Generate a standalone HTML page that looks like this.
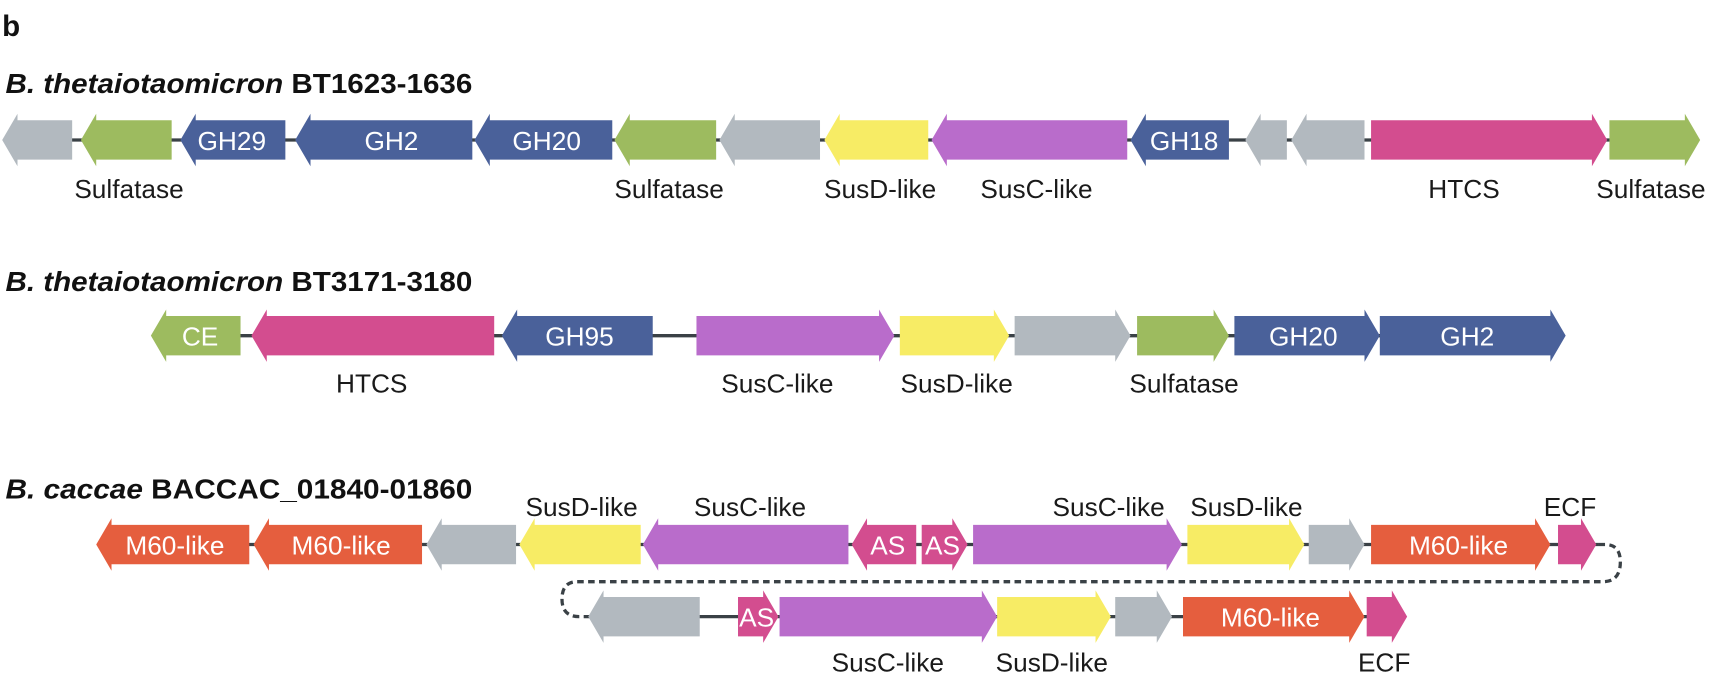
<!DOCTYPE html>
<html><head><meta charset="utf-8"><style>
html,body{margin:0;padding:0;background:#fff;}
svg{display:block;}
text{font-family:"Liberation Sans",sans-serif;}
.t{font-family:"Liberation Sans",sans-serif;font-weight:bold;font-size:25px;fill:#111;}
.l{font-size:24px;fill:#1a1a1a;text-anchor:middle;}
.w{font-size:24px;fill:#fff;text-anchor:middle;}
.g{fill:#b2b9bf}.gr{fill:#9dbb5f}.b{fill:#4a619a}.y{fill:#f7ec65}.p{fill:#b96ccb}.m{fill:#d34d8f}.o{fill:#e55e3e}
</style></head><body>
<svg width="1710" height="673" viewBox="0 0 1564 615.5" xmlns="http://www.w3.org/2000/svg">
<text x="2" y="33" class="t" style="font-size:27px">b</text>
<text x="5" y="85" class="t" textLength="427" lengthAdjust="spacingAndGlyphs"><tspan font-style="italic">B. thetaiotaomicron</tspan> BT1623-1636</text>
<line x1="60" y1="128" x2="1480" y2="128" stroke="#3a4146" stroke-width="3"/>
<polygon class="g" points="2,128 16,104 16,110 66,110 66,146 16,146 16,152"/>
<polygon class="gr" points="74,128 88,104 88,110 157,110 157,146 88,146 88,152"/>
<polygon class="b" points="165,128 179,104 179,110 261,110 261,146 179,146 179,152"/>
<polygon class="b" points="270,128 284,104 284,110 432,110 432,146 284,146 284,152"/>
<polygon class="b" points="434,128 448,104 448,110 560,110 560,146 448,146 448,152"/>
<polygon class="gr" points="562,128 576,104 576,110 655,110 655,146 576,146 576,152"/>
<polygon class="g" points="658,128 672,104 672,110 750,110 750,146 672,146 672,152"/>
<polygon class="y" points="754,128 768,104 768,110 849,110 849,146 768,146 768,152"/>
<polygon class="p" points="852,128 866,104 866,110 1031,110 1031,146 866,146 866,152"/>
<polygon class="b" points="1034,128 1048,104 1048,110 1124,110 1124,146 1048,146 1048,152"/>
<polygon class="g" points="1139,128 1153,104 1153,110 1177,110 1177,146 1153,146 1153,152"/>
<polygon class="g" points="1181,128 1195,104 1195,110 1248,110 1248,146 1195,146 1195,152"/>
<polygon class="m" points="1254,110 1456,110 1456,104 1470,128 1456,152 1456,146 1254,146"/>
<polygon class="gr" points="1472,110 1541,110 1541,104 1555,128 1541,152 1541,146 1472,146"/>
<text class="w" x="212" y="137">GH29</text>
<text class="w" x="358" y="137">GH2</text>
<text class="w" x="500" y="137">GH20</text>
<text class="w" x="1083" y="137">GH18</text>
<text class="l" x="118" y="181">Sulfatase</text>
<text class="l" x="612" y="181">Sulfatase</text>
<text class="l" x="805" y="181">SusD-like</text>
<text class="l" x="948" y="181">SusC-like</text>
<text class="l" x="1339" y="181">HTCS</text>
<text class="l" x="1510" y="181">Sulfatase</text>

<text x="5" y="266" class="t" textLength="427" lengthAdjust="spacingAndGlyphs"><tspan font-style="italic">B. thetaiotaomicron</tspan> BT3171-3180</text>
<line x1="150" y1="307" x2="1420" y2="307" stroke="#3a4146" stroke-width="3"/>
<polygon class="gr" points="138,307 152,283 152,289 220,289 220,325 152,325 152,331"/>
<polygon class="m" points="230,307 244,283 244,289 452,289 452,325 244,325 244,331"/>
<polygon class="b" points="459,307 473,283 473,289 597,289 597,325 473,325 473,331"/>
<polygon class="p" points="637,289 804,289 804,283 818,307 804,331 804,325 637,325"/>
<polygon class="y" points="823,289 909,289 909,283 923,307 909,331 909,325 823,325"/>
<polygon class="g" points="928,289 1020,289 1020,283 1034,307 1020,331 1020,325 928,325"/>
<polygon class="gr" points="1040,289 1110,289 1110,283 1124,307 1110,331 1110,325 1040,325"/>
<polygon class="b" points="1129,289 1248,289 1248,283 1262,307 1248,331 1248,325 1129,325"/>
<polygon class="b" points="1262,289 1418,289 1418,283 1432,307 1418,331 1418,325 1262,325"/>
<text class="w" x="183" y="316">CE</text>
<text class="w" x="530" y="316">GH95</text>
<text class="w" x="1192" y="316">GH20</text>
<text class="w" x="1342" y="316">GH2</text>
<text class="l" x="340" y="359">HTCS</text>
<text class="l" x="711" y="359">SusC-like</text>
<text class="l" x="875" y="359">SusD-like</text>
<text class="l" x="1083" y="359">Sulfatase</text>

<text x="5" y="456" class="t" textLength="427" lengthAdjust="spacingAndGlyphs"><tspan font-style="italic">B. caccae</tspan> BACCAC_01840-01860</text>
<line x1="100" y1="498" x2="1462" y2="498" stroke="#3a4146" stroke-width="3"/>
<path d="M1462,498 L1468,498 Q1482,498 1482,514 Q1482,532 1466,532 L528,532 Q514,532 514,548 Q514,564 530,564 L540,564" fill="none" stroke="#3a4146" stroke-width="3" stroke-dasharray="6,4"/>
<polygon class="o" points="88,498 102,474 102,480 228,480 228,516 102,516 102,522"/>
<polygon class="o" points="232,498 246,474 246,480 386,480 386,516 246,516 246,522"/>
<polygon class="g" points="390,498 404,474 404,480 472,480 472,516 404,516 404,522"/>
<polygon class="y" points="475,498 489,474 489,480 586,480 586,516 489,516 489,522"/>
<polygon class="p" points="588,498 602,474 602,480 776,480 776,516 602,516 602,522"/>
<polygon class="m" points="779,498 793,474 793,480 838,480 838,516 793,516 793,522"/>
<polygon class="m" points="843,480 871,480 871,474 885,498 871,522 871,516 843,516"/>
<polygon class="p" points="890,480 1067,480 1067,474 1081,498 1067,522 1067,516 890,516"/>
<polygon class="y" points="1086,480 1179,480 1179,474 1193,498 1179,522 1179,516 1086,516"/>
<polygon class="g" points="1197,480 1234,480 1234,474 1248,498 1234,522 1234,516 1197,516"/>
<polygon class="o" points="1254,480 1404,480 1404,474 1418,498 1404,522 1404,516 1254,516"/>
<polygon class="m" points="1425,480 1446,480 1446,474 1460,498 1446,522 1446,516 1425,516"/>
<text class="w" x="160" y="507">M60-like</text>
<text class="w" x="312" y="507">M60-like</text>
<text class="w" x="812" y="507">AS</text>
<text class="w" x="862" y="507">AS</text>
<text class="w" x="1334" y="507">M60-like</text>
<text class="l" x="532" y="472">SusD-like</text>
<text class="l" x="686" y="472">SusC-like</text>
<text class="l" x="1014" y="472">SusC-like</text>
<text class="l" x="1140" y="472">SusD-like</text>
<text class="l" x="1436" y="472">ECF</text>

<line x1="540" y1="564" x2="1280" y2="564" stroke="#3a4146" stroke-width="3"/>
<polygon class="g" points="538,564 552,540 552,546 640,546 640,582 552,582 552,588"/>
<polygon class="m" points="675,546 698,546 698,540 712,564 698,588 698,582 675,582"/>
<polygon class="p" points="713,546 898,546 898,540 912,564 898,588 898,582 713,582"/>
<polygon class="y" points="912,546 1002,546 1002,540 1016,564 1002,588 1002,582 912,582"/>
<polygon class="g" points="1020,546 1058,546 1058,540 1072,564 1058,588 1058,582 1020,582"/>
<polygon class="o" points="1082,546 1234,546 1234,540 1248,564 1234,588 1234,582 1082,582"/>
<polygon class="m" points="1250,546 1273,546 1273,540 1287,564 1273,588 1273,582 1250,582"/>
<text class="w" x="692" y="573">AS</text>
<text class="w" x="1162" y="573">M60-like</text>
<text class="l" x="812" y="614">SusC-like</text>
<text class="l" x="962" y="614">SusD-like</text>
<text class="l" x="1266" y="614">ECF</text>
</svg>
</body></html>
